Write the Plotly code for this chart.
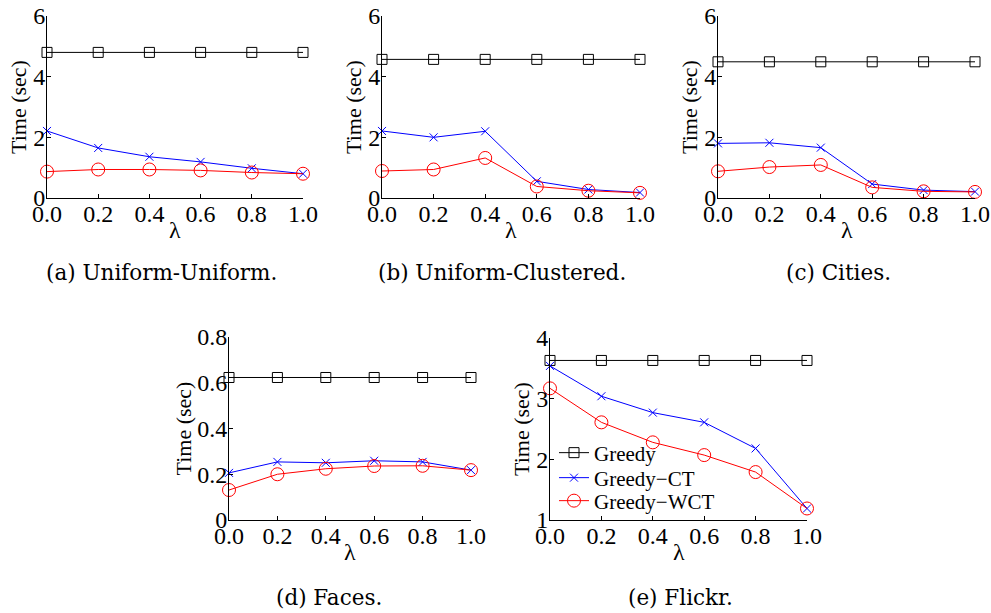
import plotly.graph_objects as go

lam = [0.0, 0.2, 0.4, 0.6, 0.8, 1.0]
x_tick_labels = ["0.0", "0.2", "0.4", "0.6", "0.8", "1.0"]

# (a) Uniform-Uniform
a_greedy = [4.8, 4.8, 4.8, 4.8, 4.8, 4.8]
a_ct = [2.21, 1.65, 1.36, 1.19, 0.98, 0.80]
a_wct = [0.87, 0.94, 0.94, 0.91, 0.84, 0.80]
# (b) Uniform-Clustered
b_greedy = [4.57, 4.57, 4.57, 4.57, 4.57, 4.57]
b_ct = [2.21, 2.00, 2.20, 0.55, 0.28, 0.18]
b_wct = [0.89, 0.94, 1.32, 0.38, 0.24, 0.17]
# (c) Cities
c_greedy = [4.49, 4.49, 4.49, 4.49, 4.49, 4.49]
c_ct = [1.80, 1.82, 1.66, 0.46, 0.26, 0.21]
c_wct = [0.88, 1.02, 1.09, 0.35, 0.22, 0.20]
# (d) Faces
d_greedy = [0.623, 0.623, 0.623, 0.623, 0.623, 0.623]
d_ct = [0.206, 0.254, 0.250, 0.259, 0.254, 0.218]
d_wct = [0.131, 0.200, 0.224, 0.236, 0.237, 0.218]
# (e) Flickr
e_greedy = [3.63, 3.63, 3.63, 3.63, 3.63, 3.63]
e_ct = [3.54, 3.04, 2.77, 2.61, 2.18, 1.19]
e_wct = [3.17, 2.61, 2.28, 2.07, 1.79, 1.19]

series_names = ["Greedy", "Greedy\u2212CT", "Greedy\u2212WCT"]
captions = ["(a) Uniform-Uniform.", "(b) Uniform-Clustered.", "(c) Cities.",
            "(d) Faces.", "(e) Flickr."]

y_ranges = [[0, 6], [0, 6], [0, 6], [0, 0.8], [1, 4]]
y_ticks = [[0, 2, 4, 6], [0, 2, 4, 6], [0, 2, 4, 6],
           [0, 0.2, 0.4, 0.6, 0.8], [1, 2, 3, 4]]
y_tick_labels = [["0", "2", "4", "6"], ["0", "2", "4", "6"], ["0", "2", "4", "6"],
                 ["0", "0.2", "0.4", "0.6", "0.8"], ["1", "2", "3", "4"]]

data = [(a_greedy, a_ct, a_wct), (b_greedy, b_ct, b_wct), (c_greedy, c_ct, c_wct),
        (d_greedy, d_ct, d_wct), (e_greedy, e_ct, e_wct)]

W, H = 991, 613
# plot areas in pixels: (left, right, top, bottom)
boxes = [(47, 303, 16, 198), (382, 640, 16, 198), (718, 975, 16, 198),
         (229, 471, 337, 520), (550, 807, 338, 520)]
caption_pos = [(161, 272), (502, 272), (838, 272), (329, 597), (680, 597)]
ytitle_shift = [-29, -29, -29, -46, -29]
legend_rows = [453, 478, 501]

styles = [
    dict(color="#000000", symbol="square-open", size=10),
    dict(color="#0000ff", symbol="x-thin-open", size=8),
    dict(color="#ff0000", symbol="circle-open", size=13),
]

fig = go.Figure()
serif = "Liberation Serif, Times New Roman, serif"
layout = dict(width=W, height=H, margin=dict(l=0, r=0, t=0, b=0, autoexpand=False),
              paper_bgcolor="white", plot_bgcolor="white", showlegend=True)
annotations = []
legend_ids = ["legend", "legend2", "legend3"]

for i, (box, series) in enumerate(zip(boxes, data)):
    l, r, t, b = box
    xa = "xaxis" if i == 0 else f"xaxis{i+1}"
    ya = "yaxis" if i == 0 else f"yaxis{i+1}"
    xr = "x" if i == 0 else f"x{i+1}"
    yr = "y" if i == 0 else f"y{i+1}"
    common = dict(showline=True, linecolor="black", linewidth=1, showgrid=False,
                  zeroline=False, ticks="inside", ticklen=4, tickcolor="black",
                  automargin=False,
                  tickfont=dict(family=serif, size=24, color="black"), mirror=False)
    layout[xa] = dict(domain=[l / W, r / W], anchor=yr, range=[0, 1],
                      tickvals=lam, ticktext=x_tick_labels, ticklabelstandoff=-6,
                      **common)
    layout[ya] = dict(domain=[1 - b / H, 1 - t / H], anchor=xr, range=y_ranges[i],
                      tickvals=y_ticks[i], ticktext=y_tick_labels[i],
                      ticklabelstandoff=-4, **common)
    for j, (vals, st) in enumerate(zip(series, styles)):
        fig.add_trace(go.Scatter(
            x=lam, y=vals, xaxis=xr, yaxis=yr, mode="lines+markers",
            name=series_names[j], showlegend=(i == 4), legend=legend_ids[j],
            cliponaxis=False,
            line=dict(color=st["color"], width=1),
            marker=dict(symbol=st["symbol"], size=st["size"], color=st["color"],
                        line=dict(color=st["color"], width=1)),
        ))
    annotations.append(dict(text="\u03bb", xref=f"{xr} domain", yref=f"{yr} domain",
                            x=0.5, y=0, yanchor="middle", yshift=-32, showarrow=False,
                            font=dict(family=serif, size=24, color="black")))
    annotations.append(dict(text="Time (sec)", xref=f"{xr} domain", yref=f"{yr} domain",
                            x=0, y=0.5, xanchor="center", yanchor="middle",
                            xshift=ytitle_shift[i], textangle=-90, showarrow=False,
                            font=dict(family=serif, size=22, color="black")))
    cx, cy = caption_pos[i]
    annotations.append(dict(text=captions[i], xref="paper", yref="paper",
                            x=cx / W, y=1 - cy / H, xanchor="center", yanchor="middle",
                            showarrow=False,
                            font=dict(family="DejaVu Serif, serif", size=21.5, color="black")))

layout["annotations"] = annotations
for lid, row in zip(legend_ids, legend_rows):
    layout[lid] = dict(x=554 / W, y=1 - row / H, xanchor="left", yanchor="middle",
                       bgcolor="rgba(0,0,0,0)", borderwidth=0, itemwidth=30,
                       font=dict(family=serif, size=21, color="black"))
fig.update_layout(**layout)
fig.write_html("out.html", config={"displayModeBar": False},
               post_script="document.body.style.margin='0px';")
